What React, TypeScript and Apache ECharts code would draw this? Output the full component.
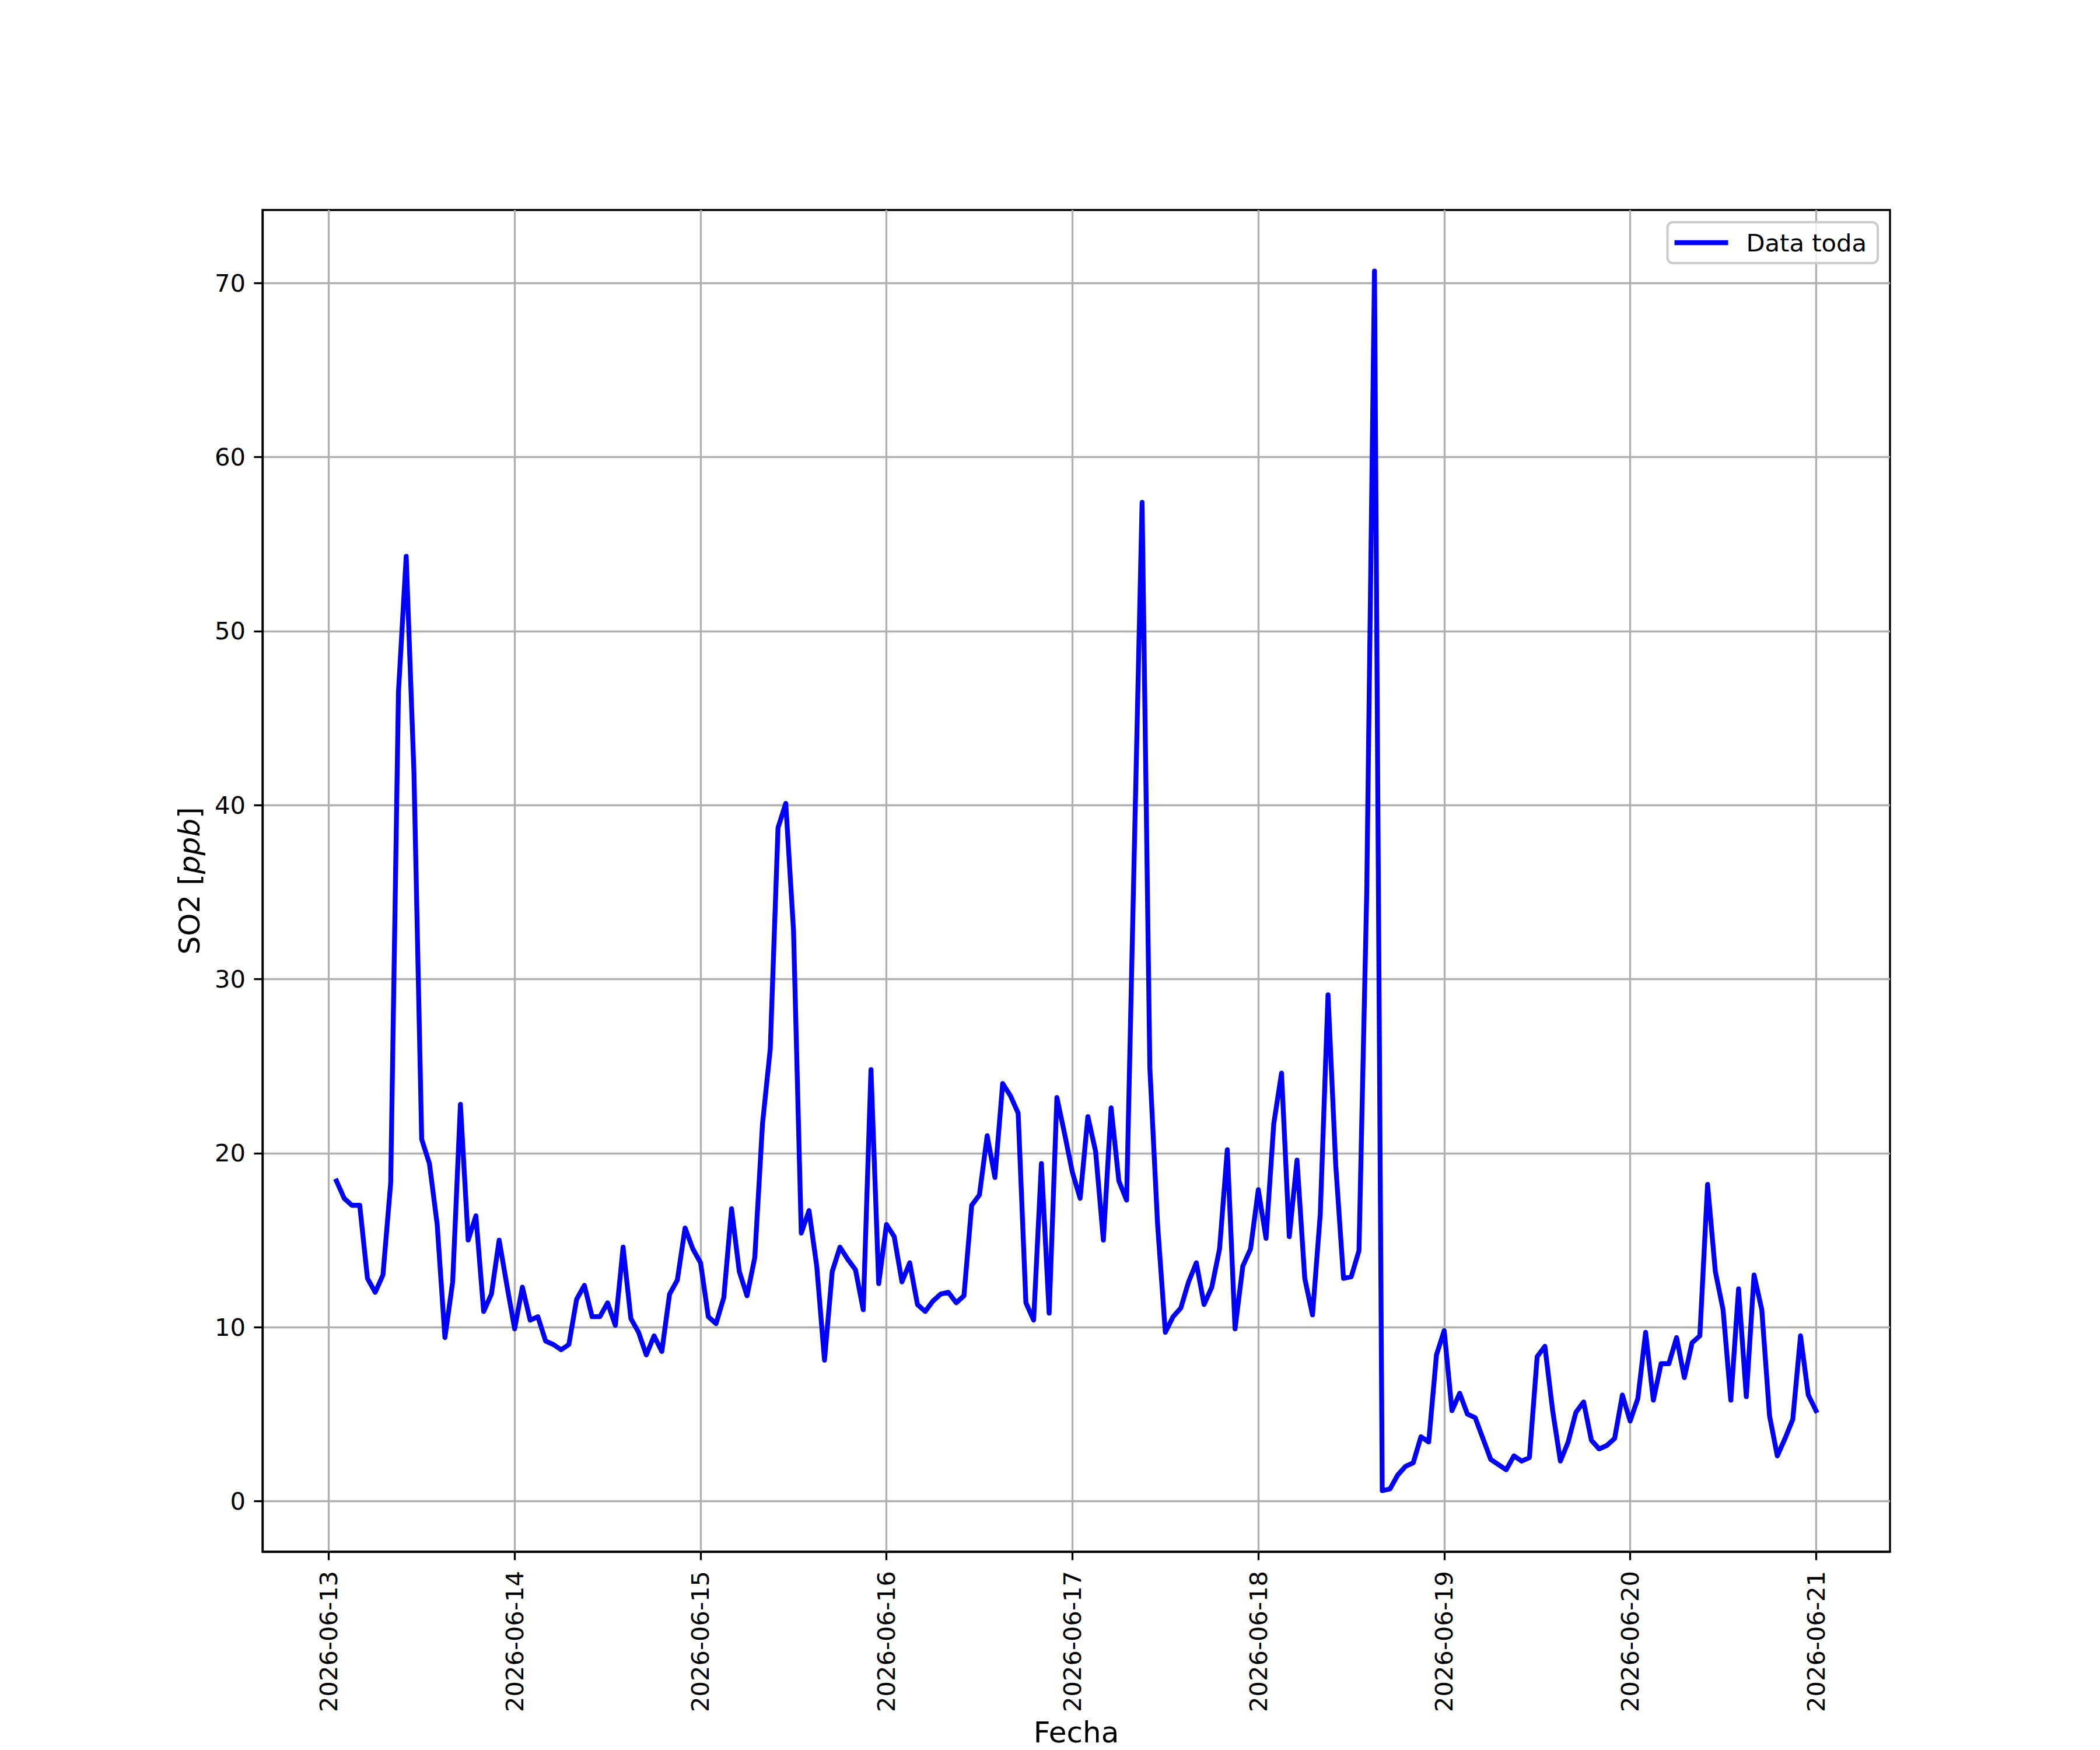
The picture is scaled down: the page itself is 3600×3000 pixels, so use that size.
import React, { useEffect, useRef } from "react";
import * as echarts from "echarts";

// Hourly SO2 readings, first reading 2026-06-13 01:00, last 2026-06-21 00:00
const firstReading = "2026-06-13T01:00:00Z";

const so2Day13 = [18.4, 17.4, 17.0, 17.0, 12.8, 12.0, 13.0, 18.3, 46.5, 54.3, 41.9, 20.8, 19.4, 15.9, 9.4, 12.6, 22.8, 15.0, 16.4, 10.9, 11.9, 15.0, 12.4, 9.9];
const so2Day14 = [12.3, 10.4, 10.6, 9.2, 9.0, 8.7, 9.0, 11.6, 12.4, 10.6, 10.6, 11.4, 10.1, 14.6, 10.5, 9.7, 8.4, 9.5, 8.6, 11.9, 12.7, 15.7, 14.5, 13.7];
const so2Day15 = [10.6, 10.2, 11.7, 16.8, 13.2, 11.8, 14.0, 21.7, 26.0, 38.7, 40.1, 32.8, 15.4, 16.7, 13.5, 8.1, 13.2, 14.6, 13.9, 13.3, 11.0, 24.8, 12.5, 15.9];
const so2Day16 = [15.2, 12.6, 13.7, 11.3, 10.9, 11.5, 11.9, 12.0, 11.4, 11.8, 17.0, 17.6, 21.0, 18.6, 24.0, 23.3, 22.3, 11.4, 10.4, 19.4, 10.8, 23.2, 21.1, 18.9];
const so2Day17 = [17.4, 22.1, 20.1, 15.0, 22.6, 18.4, 17.3, 37.5, 57.4, 24.9, 15.9, 9.7, 10.6, 11.1, 12.6, 13.7, 11.3, 12.3, 14.5, 20.2, 9.9, 13.5, 14.5, 17.9];
const so2Day18 = [15.1, 21.7, 24.6, 15.2, 19.6, 12.8, 10.7, 16.5, 29.1, 19.3, 12.8, 12.9, 14.4, 35.0, 70.7, 0.6, 0.7, 1.5, 2.0, 2.2, 3.7, 3.4, 8.4, 9.8];
const so2Day19 = [5.2, 6.2, 5.0, 4.8, 3.6, 2.4, 2.1, 1.8, 2.6, 2.3, 2.5, 8.3, 8.9, 5.2, 2.3, 3.4, 5.1, 5.7, 3.5, 3.0, 3.2, 3.6, 6.1, 4.6];
const so2Day20 = [5.9, 9.7, 5.8, 7.9, 7.9, 9.4, 7.1, 9.1, 9.5, 18.2, 13.2, 11.0, 5.8, 12.2, 6.0, 13.0, 11.0, 4.9, 2.6, 3.6, 4.7, 9.5, 6.1, 5.2];

const so2Values = [
  ...so2Day13, ...so2Day14, ...so2Day15, ...so2Day16,
  ...so2Day17, ...so2Day18, ...so2Day19, ...so2Day20,
];

const dayTicks = [
  "2026-06-13", "2026-06-14", "2026-06-15", "2026-06-16", "2026-06-17",
  "2026-06-18", "2026-06-19", "2026-06-20", "2026-06-21",
];
const yTicks = [0, 10, 20, 30, 40, 50, 60, 70];

const seriesName = "Data toda";
const xTitle = "Fecha";

const FONT = "DejaVu Sans";
const TICK_FS = 41.67;
const LABEL_FS = 50;
const LW = 3.33;

function App() {
  const ref = useRef<HTMLDivElement | null>(null);

  useEffect(() => {
    document.body.style.margin = "0";
    document.body.style.overflow = "hidden";
    if (!ref.current) return;
    const chart = echarts.init(ref.current, undefined, { renderer: "svg" });

    const hour = 3600 * 1000;
    const t0 = Date.parse(firstReading);
    const points = so2Values.map((v, i) => [t0 + i * hour, v]);
    const tFirst = t0;
    const tLast = t0 + (so2Values.length - 1) * hour;
    const xPad = 0.05 * (tLast - tFirst);
    const vMin = Math.min(...so2Values);
    const vMax = Math.max(...so2Values);
    const yPad = 0.05 * (vMax - vMin);
    const xTickValues = dayTicks.map((d) => Date.parse(d + "T00:00:00Z"));

    const option: any = {
      animation: false,
      backgroundColor: "#ffffff",
      textStyle: { fontFamily: FONT },
      grid: {
        left: 450,
        top: 360,
        width: 2790,
        height: 2310,
        show: true,
        borderColor: "#000000",
        borderWidth: LW,
        backgroundColor: "transparent",
        containLabel: false,
      },
      legend: {
        show: true,
        data: [seriesName],
        right: 381,
        top: 381,
        orient: "vertical",
        icon: "rect",
        itemWidth: 92,
        itemHeight: 8.33,
        padding: [14, 19, 14, 12],
        backgroundColor: "rgba(255,255,255,0.8)",
        borderColor: "#cccccc",
        borderWidth: 4,
        borderRadius: 9,
        textStyle: {
          fontFamily: FONT,
          fontSize: TICK_FS,
          color: "#000000",
          padding: [0, 0, 0, 26],
        },
      },
      xAxis: {
        type: "value",
        min: tFirst - xPad,
        max: tLast + xPad,
        scale: true,
        name: xTitle,
        nameLocation: "middle",
        nameGap: 285,
        nameTextStyle: { fontFamily: FONT, fontSize: LABEL_FS, color: "#000000" },
        axisLine: { show: true, onZero: false, lineStyle: { color: "#000000", width: LW } },
        axisTick: {
          show: true,
          customValues: xTickValues,
          length: 14.6,
          inside: false,
          lineStyle: { color: "#000000", width: LW },
        },
        axisLabel: {
          show: true,
          customValues: xTickValues,
          rotate: 90,
          margin: 33,
          fontFamily: FONT,
          fontSize: TICK_FS,
          color: "#000000",
          hideOverlap: false,
          showMinLabel: true,
          showMaxLabel: true,
          formatter: (v: number) => new Date(v).toISOString().slice(0, 10),
        },
        splitLine: { show: true, lineStyle: { color: "#b0b0b0", width: LW } },
      },
      yAxis: {
        type: "value",
        min: vMin - yPad,
        max: vMax + yPad,
        name: "SO2 [{i|ppb}]",
        nameLocation: "middle",
        nameGap: 100,
        nameRotate: 90,
        nameTextStyle: {
          fontFamily: FONT,
          fontSize: LABEL_FS,
          color: "#000000",
          rich: {
            i: { fontFamily: FONT, fontSize: LABEL_FS, fontStyle: "italic", color: "#000000" },
          },
        },
        axisLine: { show: true, onZero: false, lineStyle: { color: "#000000", width: LW } },
        axisTick: {
          show: true,
          customValues: yTicks,
          length: 14.6,
          inside: false,
          lineStyle: { color: "#000000", width: LW },
        },
        axisLabel: {
          show: true,
          customValues: yTicks,
          margin: 29,
          fontFamily: FONT,
          fontSize: TICK_FS,
          color: "#000000",
        },
        splitLine: { show: true, lineStyle: { color: "#b0b0b0", width: LW } },
      },
      series: [
        {
          name: seriesName,
          type: "line",
          data: points,
          showSymbol: false,
          symbol: "none",
          color: "#0000ff",
          lineStyle: { color: "#0000ff", width: 8.33, join: "round", cap: "square" },
          emphasis: { disabled: true },
          clip: true,
          z: 3,
        },
      ],
    };

    chart.setOption(option);
    return () => {
      chart.dispose();
    };
  }, []);

  return (
    <div
      ref={ref}
      style={{ position: "absolute", left: 0, top: 0, width: 3600, height: 3000, background: "#ffffff" }}
    />
  );
}

export default App;
